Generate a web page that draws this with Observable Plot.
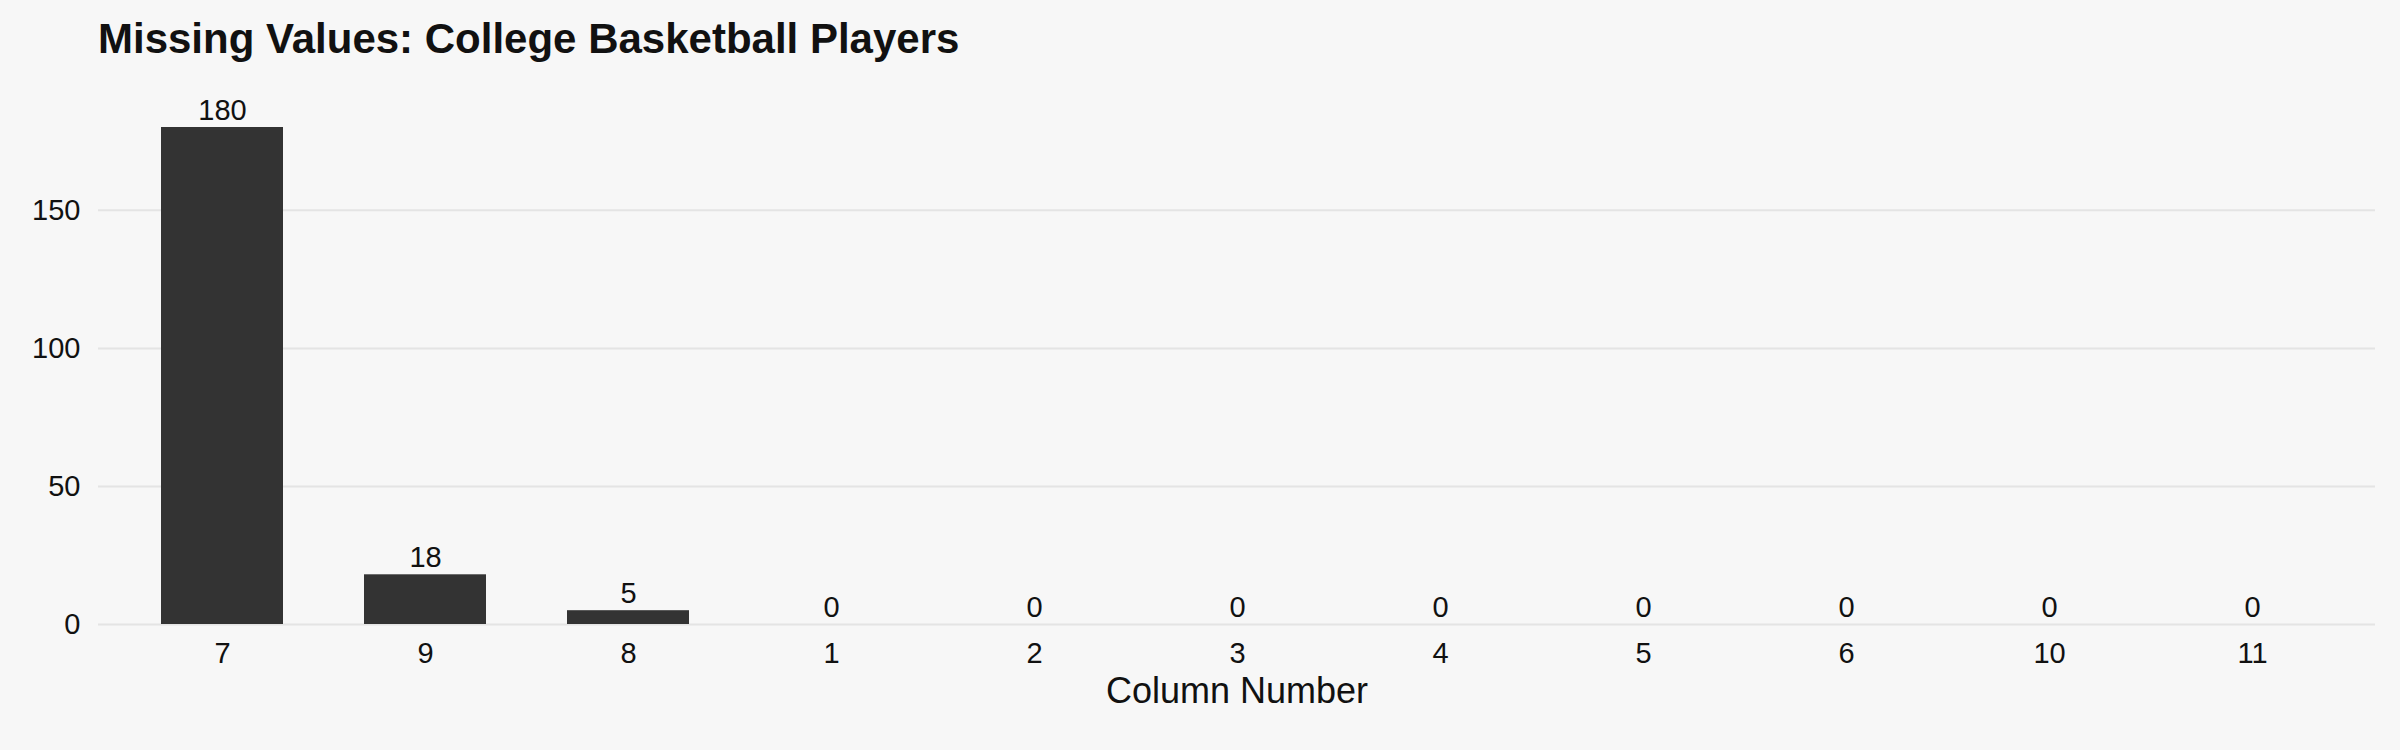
<!DOCTYPE html>
<html><head><meta charset="utf-8">
<script src="https://cdn.jsdelivr.net/npm/d3@7"></script>
<script src="https://cdn.jsdelivr.net/npm/@observablehq/plot@0.6"></script>
<style>
body{margin:0;background:#f7f7f7;font-family:"Liberation Sans",Arial,sans-serif;}
#title{height:61px;box-sizing:border-box;padding:18px 0 0 98px;font-size:42px;font-weight:bold;color:#111;line-height:1;}
</style></head>
<body>
<div id="title">Missing Values: College Basketball Players</div>
<div id="chart"></div>
<script>
const columns = ["7","9","8","1","2","3","4","5","6","10","11"];
const missing = [180, 18, 5, 0, 0, 0, 0, 0, 0, 0, 0];
const data = columns.map((c, i) => ({col: c, n: missing[i]}));

const chart = Plot.plot({
  width: 2400,
  height: 689,
  marginTop: 66,
  marginBottom: 126,
  marginLeft: 98,
  marginRight: 25,
  style: {backgroundColor: "#f7f7f7", color: "#111", fontFamily: "Liberation Sans, Arial, sans-serif", fontSize: "29px"},
  x: {domain: columns, paddingInner: 0.4, paddingOuter: 0.3, label: null, tickSize: 0, tickPadding: 18},
  y: {domain: [0, 180], ticks: [0, 50, 100, 150], label: null, tickSize: 0, tickPadding: 18},
  marks: [
    Plot.gridY([0, 50, 100, 150], {stroke: "#e4e4e4", strokeOpacity: 1, strokeWidth: 2}),
    Plot.barY(data, {x: "col", y: "n", fill: "#333333"}),
    Plot.text(data, {x: "col", y: "n", text: d => String(d.n), dy: -17, fontSize: 29, fill: "#111"}),
    Plot.axisX({tickSize: 0, tickPadding: 18, fontSize: 29, label: null}),
    Plot.axisY({ticks: [0, 50, 100, 150], tickSize: 0, tickPadding: 18, fontSize: 29, label: null}),
    Plot.text(["Column Number"], {frameAnchor: "bottom", dy: 78, fontSize: 36, fill: "#111"})
  ]
});
document.getElementById("chart").append(chart);
</script>
</body></html>
